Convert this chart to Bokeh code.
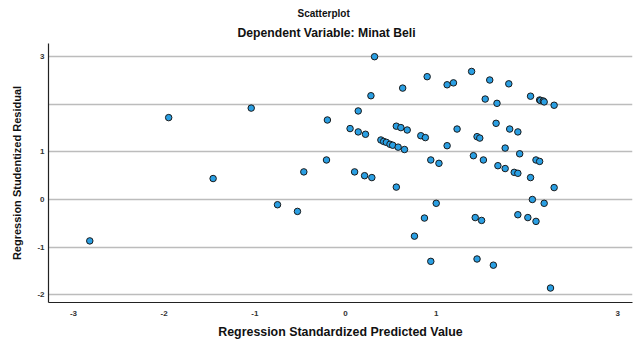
from bokeh.plotting import figure
from bokeh.models import FixedTicker, Range1d, Title
from bokeh.embed import file_html
from bokeh.resources import INLINE

# Regression standardized predicted value (x) and studentized residual (y)
pred = [-2.82, -1.95, -1.04, -0.20, 0.14, 0.05, 0.14, -0.21, -0.46, 0.10,
        -1.46, -0.75, -0.53, 0.32, 0.90, 1.39, 1.12, 1.19, 1.59, 1.80,
        0.28, 0.63, 1.54, 1.67, 2.04, 2.14, 2.15, 2.18, 2.19, 2.30,
        0.22, 0.56, 0.61, 0.68, 0.83, 0.88, 1.23, 1.66, 1.81, 1.90,
        1.45, 1.48, 0.39, 0.42, 0.45, 0.49, 0.52, 0.58, 0.65, 1.12,
        1.76, 1.92, 1.41, 1.52, 0.94, 1.03, 2.10, 2.14, 1.68, 1.76,
        1.86, 1.90, 2.04, 0.21, 0.29, 0.56, 2.30, 2.06, 2.19, 1.00,
        0.87, 1.43, 1.50, 1.90, 2.01, 2.10, 0.76, 0.94, 1.45, 1.63, 2.26]
resid = [-0.87, 1.72, 1.92, 1.67, 1.86, 1.49, 1.42, 0.83, 0.58, 0.58,
         0.44, -0.11, -0.25, 3.00, 2.58, 2.69, 2.41, 2.45, 2.51, 2.43,
         2.18, 2.34, 2.11, 2.02, 2.17, 2.09, 2.08, 2.07, 2.05, 1.98,
         1.37, 1.54, 1.51, 1.46, 1.34, 1.30, 1.48, 1.60, 1.48, 1.42,
         1.32, 1.29, 1.25, 1.22, 1.20, 1.16, 1.14, 1.10, 1.05, 1.13,
         1.08, 0.96, 0.92, 0.83, 0.83, 0.76, 0.83, 0.80, 0.71, 0.65,
         0.57, 0.55, 0.46, 0.50, 0.46, 0.26, 0.25, 0.00, -0.08, -0.08,
         -0.39, -0.38, -0.44, -0.32, -0.38, -0.46, -0.77, -1.30, -1.25, -1.38, -1.86]

x_ticks = [-3, -2, -1, 0, 1, 2, 3]
x_tick_labels = {-3: "-3", -2: "-2", -1: "-1", 0: "0", 1: "1", 2: "", 3: "3"}
y_ticks = [-2, -1, 0, 1, 2, 3]
y_tick_labels = {-2: "-2", -1: "-1", 0: "0", 1: "1", 2: "", 3: "3"}

title_text = "Scatterplot"
subtitle_text = "Dependent Variable: Minat Beli"
x_label = "Regression Standardized Predicted Value"
y_label = "Regression Studentized Residual"

FONT = "Liberation Sans"

p = figure(width=635, height=341, output_backend="svg", toolbar_location=None,
           x_range=Range1d(-3.275, 3.164), y_range=Range1d(-2.164, 3.277),
           min_border_left=48, min_border_right=3, min_border_top=43, min_border_bottom=39)
p.outline_line_color = None
p.background_fill_color = "white"
p.border_fill_color = "white"

p.xgrid.grid_line_color = None
p.ygrid.grid_line_color = "#bcbcbc"
p.ygrid.grid_line_width = 1.5

p.xaxis.ticker = FixedTicker(ticks=x_ticks)
p.yaxis.ticker = FixedTicker(ticks=y_ticks)
p.xaxis.major_label_overrides = x_tick_labels
p.yaxis.major_label_overrides = y_tick_labels
for ax in (p.xaxis, p.yaxis):
    ax.major_tick_line_color = None
    ax.minor_tick_line_color = None
    ax.major_tick_out = 0
    ax.major_tick_in = 0
    ax.minor_tick_out = 0
    ax.minor_tick_in = 0
    ax.axis_line_color = "#222222"
    ax.axis_line_width = 1.2
    ax.major_label_text_font = FONT
    ax.major_label_text_font_size = "8px"
    ax.major_label_text_color = "#333333"
    ax.major_label_text_font_style = "bold"
    ax.axis_label_text_font = FONT
    ax.axis_label_text_font_style = "bold"
    ax.axis_label_text_color = "#111111"
p.xaxis.major_label_standoff = 8
p.yaxis.major_label_standoff = 4
p.xaxis.axis_label = x_label
p.yaxis.axis_label = y_label
p.xaxis.axis_label_text_font_size = "12.4px"
p.yaxis.axis_label_text_font_size = "11px"
p.xaxis.axis_label_standoff = 6
p.yaxis.axis_label_standoff = 11

p.scatter(pred, resid, size=6.5, fill_color="#2a9fe3", line_color="#1a1a1a", line_width=1)

p.add_layout(Title(text=subtitle_text, align="left", offset=189, standoff=7,
                   text_font=FONT, text_font_size="12.2px", text_font_style="bold",
                   text_color="#111111"), "above")
p.add_layout(Title(text=title_text, align="left", offset=249, standoff=4,
                   text_font=FONT, text_font_size="10px", text_font_style="bold",
                   text_color="#111111"), "above")

open("out.html", "w").write(file_html(p, INLINE))
